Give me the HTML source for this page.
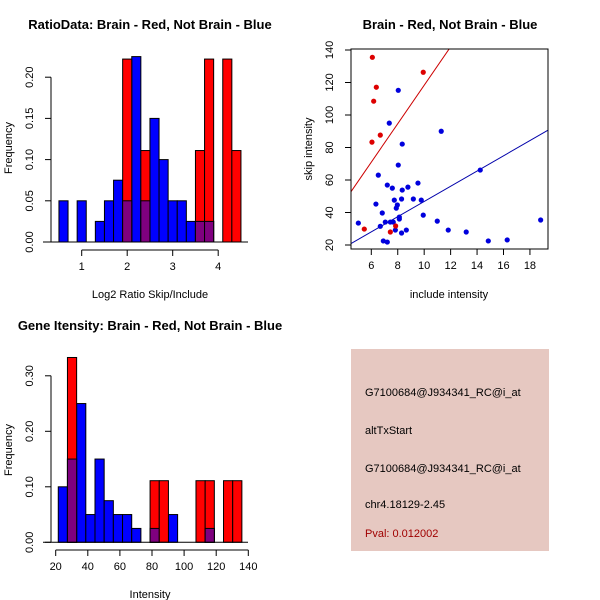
<!DOCTYPE html>
<html><head><meta charset="utf-8"><style>
body{margin:0;background:#fff}
svg{display:block;font-family:"Liberation Sans",sans-serif}
</style></head><body>
<svg id="s" width="600" height="600" viewBox="0 0 600 600">
<rect x="0" y="0" width="600" height="600" fill="#fff"/>
<text x="150" y="29" font-size="13" font-weight="bold" text-anchor="middle">RatioData: Brain - Red, Not Brain - Blue</text>
<text x="450" y="29" font-size="13" font-weight="bold" text-anchor="middle">Brain - Red, Not Brain - Blue</text>
<text x="150" y="330" font-size="13" font-weight="bold" text-anchor="middle">Gene Itensity: Brain - Red, Not Brain - Blue</text>
<text x="150" y="298" font-size="11" text-anchor="middle">Log2 Ratio Skip/Include</text>
<text x="449" y="298" font-size="11" text-anchor="middle">include intensity</text>
<text x="150" y="598" font-size="11" text-anchor="middle">Intensity</text>
<text transform="translate(12,148) rotate(-90)" font-size="11" text-anchor="middle">Frequency</text>
<text transform="translate(312,149) rotate(-90)" font-size="11" text-anchor="middle">skip intensity</text>
<text transform="translate(12,450) rotate(-90)" font-size="11" text-anchor="middle">Frequency</text>
<g id="g1"></g>
<g id="g2"></g>
<g id="g3"></g>
<g>
<rect x="351" y="349" width="198" height="202" fill="#e6c8c1"/>
<text x="365" y="396" font-size="11">G7100684@J934341_RC@i_at</text>
<text x="365" y="434" font-size="11">altTxStart</text>
<text x="365" y="472" font-size="11">G7100684@J934341_RC@i_at</text>
<text x="365" y="508" font-size="11">chr4.18129-2.45</text>
<text x="365" y="537" font-size="11" fill="#a00000">Pval: 0.012002</text>
</g>
</svg>
<script>
// Ratio histogram data
const ratioStart = 0.5, ratioWidth = 0.2;
const ratioBlue = [0.05,0,0.05,0,0.025,0.05,0.075,0.05,0.225,0.05,0.15,0.10,0.05,0.05,0.025,0.025,0.025,0,0,0];
const ratioRed  = [0,0,0,0,0,0,0,0.222,0,0.111,0,0,0,0,0,0.111,0.222,0,0.222,0.111];
const ratioXTicks = [1,2,3,4];
const ratioYTicks = ["0.00","0.05","0.10","0.15","0.20"];
// Intensity histogram data
const intStart = 21.6, intWidth = 5.72;
const intBlue = [0.10,0.15,0.25,0.05,0.15,0.075,0.05,0.05,0.025,0,0.025,0,0.05,0,0,0,0.025,0,0,0];
const intRed  = [0,0.333,0,0,0,0,0,0,0,0,0.111,0.111,0,0,0,0.111,0.111,0,0.111,0.111];
const intXTicks = [20,40,60,80,100,120,140];
const intYTicks = ["0.00","0.10","0.20","0.30"];
// Scatter data
const redInc  = [6.08,9.93,6.38,6.18,6.68,6.05,5.47,7.44,7.84];
const redSkip = [135.5,126.3,117.1,108.5,87.6,83.3,29.8,28.0,31.7];
const blueInc  = [5.02,8.04,7.36,11.29,8.34,8.04,14.24,6.53,7.21,7.59,8.77,9.53,8.34,7.74,8.29,9.18,9.78,6.35,7.97,7.89,6.83,9.93,8.12,8.12,10.99,7.06,7.44,7.66,6.68,18.81,7.82,8.65,11.82,13.18,8.29,6.91,7.21,14.85,16.28];
const blueSkip = [33.5,115.2,95.0,90.0,82.1,69.2,66.1,63.0,56.9,55.0,55.6,58.1,53.8,47.6,48.3,48.3,47.6,45.2,44.6,42.7,39.7,38.4,37.2,36.0,34.7,34.1,34.1,34.1,31.5,35.4,29.2,29.2,29.2,28.0,27.4,22.5,21.8,22.5,23.1];
const redSlope = 11.83, blueSlope = 4.68;
const scXTicks = [6,8,10,12,14,16,18];
const scYTicks = [20,40,60,80,100,120,140];

const NS="http://www.w3.org/2000/svg";
function mk(p,tag,a){const e=document.createElementNS(NS,tag);for(const k in a)e.setAttribute(k,a[k]);p.appendChild(e);return e;}

function hist(g,start,w,blue,red,xs,ys,xticks,yticks,ystep,axisY,ylabX){
  for(let i=0;i<blue.length;i++){
    const x0=xs(start+i*w),x1=xs(start+(i+1)*w);
    if(blue[i]>0){const r=mk(g,'rect',{x:x0,y:ys(blue[i]),width:x1-x0,height:ys(0)-ys(blue[i]),fill:'#0000ff',stroke:'#000','stroke-width':1});
      
      }
  }
  for(let i=0;i<red.length;i++){
    const x0=xs(start+i*w),x1=xs(start+(i+1)*w);
    if(red[i]>0){const r=mk(g,'rect',{x:x0,y:ys(red[i]),width:x1-x0,height:ys(0)-ys(red[i]),fill:'#ff0000',stroke:'#000','stroke-width':1});
      
      }
    const m=Math.min(red[i],blue[i]);
    if(m>0){const r=mk(g,'rect',{x:x0,y:ys(m),width:x1-x0,height:ys(0)-ys(m),fill:'#7f007f',stroke:'#000','stroke-width':1});
      
      }
  }
  const xa=mk(g,'line',{x1:xs(xticks[0]),x2:xs(xticks[xticks.length-1]),y1:axisY,y2:axisY,stroke:'#000'});
  
  
  xticks.forEach(t=>{mk(g,'line',{x1:xs(t),x2:xs(t),y1:axisY,y2:axisY+6,stroke:'#000'});
    const tx=mk(g,'text',{x:xs(t),y:axisY+20,'font-size':11,'text-anchor':'middle'});tx.textContent=t;
    
    });
  const yv=yticks.map((t,i)=>i*ystep);
  const ya=mk(g,'line',{x1:ylabX+18,x2:ylabX+18,y1:ys(0),y2:ys(yv[yv.length-1]),stroke:'#000'});
  
  
  yticks.forEach((t,i)=>{const y=ys(yv[i]);mk(g,'line',{x1:ylabX+12,x2:ylabX+18,y1:y,y2:y,stroke:'#000'});
    const tx=mk(g,'text',{transform:`translate(${ylabX},${y}) rotate(-90)`,'font-size':11,'text-anchor':'middle'});tx.textContent=t;
    
    });
  const bl=mk(g,'line',{x1:43,x2:248,y1:ys(0),y2:ys(0),stroke:'#000'});
  
  
}
// panel 1
{const g=document.getElementById('g1');
 const xs=v=>81.7+(v-1)*45.5, ys=v=>242-v*824;
 hist(g,ratioStart,ratioWidth,ratioBlue,ratioRed,xs,ys,ratioXTicks,ratioYTicks,0.05,250,33);}
// panel 3
{const g=document.getElementById('g3');
 const xs=v=>55.7+(v-20)*1.605, ys=v=>542.3-v*555;
 hist(g,intStart,intWidth,intBlue,intRed,xs,ys,intXTicks,intYTicks,0.1,550,33);}
// panel 2
{const g=document.getElementById('g2');
 const xs=v=>371.3+(v-6)*13.22, ys=v=>245-(v-20)*1.625;
 const L=351,R=548,T=49,B=249;
 mk(g,'defs',{}).innerHTML='<clipPath id="cp"><rect x="351" y="49" width="197" height="200"/></clipPath>';
 const xmin=(L-371.3)/13.22+6, xmax=(R-371.3)/13.22+6;
 const rl=mk(g,'line',{x1:xs(xmin),y1:ys(redSlope*xmin),x2:xs(xmax),y2:ys(redSlope*xmax),stroke:'#cc0000','clip-path':'url(#cp)'});
 
 
 const bl=mk(g,'line',{x1:xs(xmin),y1:ys(blueSlope*xmin),x2:xs(xmax),y2:ys(blueSlope*xmax),stroke:'#0000aa','clip-path':'url(#cp)'});
 
 
 blueInc.forEach((v,i)=>{const c=mk(g,'circle',{cx:xs(v),cy:ys(blueSkip[i]),r:2.6,fill:'#0000dd'});
   
   });
 redInc.forEach((v,i)=>{const c=mk(g,'circle',{cx:xs(v),cy:ys(redSkip[i]),r:2.6,fill:'#dd0000'});
   
   });
 const box=mk(g,'rect',{x:L,y:T,width:R-L,height:B-T,fill:'none',stroke:'#000'});
 
 
 scXTicks.forEach(t=>{mk(g,'line',{x1:xs(t),x2:xs(t),y1:B,y2:B+6,stroke:'#000'});
   const tx=mk(g,'text',{x:xs(t),y:B+20,'font-size':11,'text-anchor':'middle'});tx.textContent=t;
   
   });
 scYTicks.forEach(t=>{mk(g,'line',{x1:L-6,x2:L,y1:ys(t),y2:ys(t),stroke:'#000'});
   const tx=mk(g,'text',{transform:`translate(333,${ys(t)}) rotate(-90)`,'font-size':11,'text-anchor':'middle'});tx.textContent=t;
   
   });
}
</script>
</body></html>
